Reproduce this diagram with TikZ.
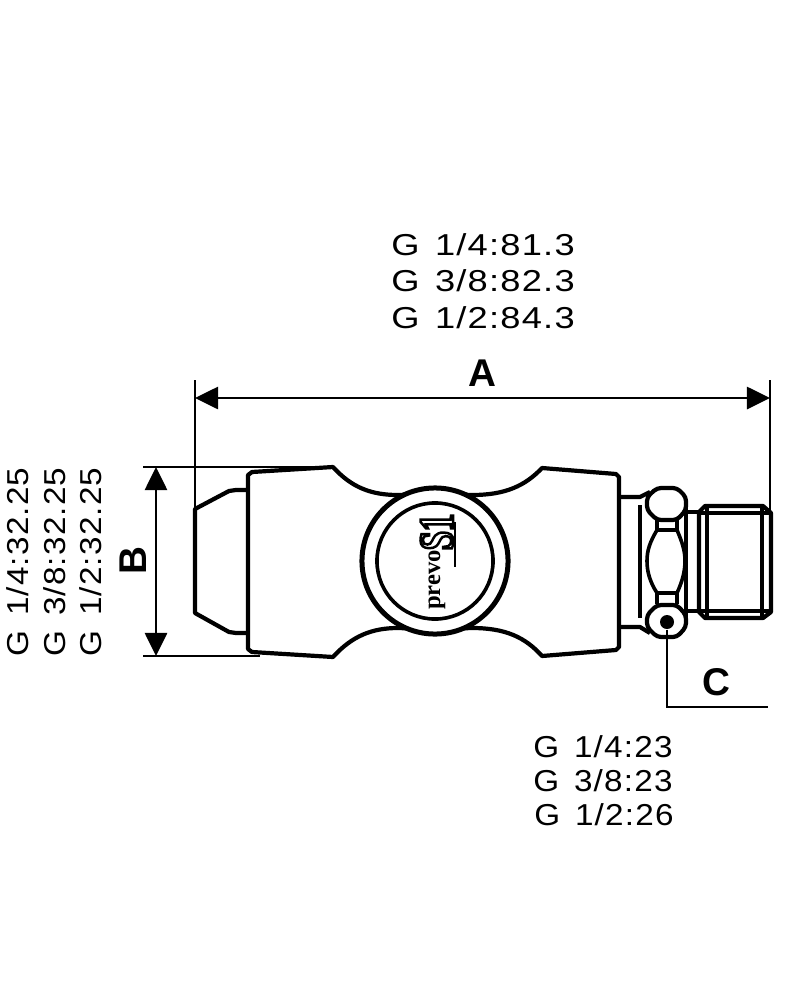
\documentclass[tikz,border=0pt]{standalone}
\usepackage{fontspec}
\usepackage{tikz}
\usetikzlibrary{arrows.meta}
\setmainfont{Liberation Sans}
\newfontfamily\dimfont[FakeStretch=1.1, LetterSpace=4]{Liberation Sans}
\newfontfamily\dimfontwide[FakeStretch=1.2, LetterSpace=4]{Liberation Sans}
\newfontfamily\logofont{Liberation Serif}
\newfontfamily\markfont[FakeStretch=0.7]{Liberation Serif}
\newcommand{\outlined}[1]{\special{pdf:code 1 Tr 0.7 w}#1\special{pdf:code 0 Tr}}
\newcommand{\gap}{\ \kern0.14em}
\tikzset{
    part/.style={draw=black, line width=0.042cm, line join=round, fill=white},
    thin part/.style={draw=black, line width=0.036cm, line join=round},
    nut part/.style={part, rounded corners=0.04cm},
    dimline/.style={draw=black, line width=0.027cm},
    dimarrow/.style={draw=black, line width=0.027cm, {Triangle[length=0.23cm,width=0.22cm]}-{Triangle[length=0.23cm,width=0.22cm]}},
    dimtext/.style={font=\dimfont\fontsize{8.6}{8.6}\selectfont, inner sep=0pt, align=center},
    dimtext wide/.style={font=\dimfontwide\fontsize{8.6}{8.6}\selectfont, inner sep=0pt, align=center},
    letter/.style={font=\bfseries\fontsize{11}{11}\selectfont, inner sep=0pt},
}
\begin{document}
\begin{tikzpicture}[x=0.01cm, y=-0.01cm]
    \useasboundingbox (0,0) rectangle (800,1000);
    % nose
    \draw[part] (250,490) -- (236,490) .. controls (233,490) and (232,490) .. (229,491) -- (195,509) -- (195,613) -- (229,632) .. controls (232,633) and (233,633) .. (236,633) -- (250,633);
    % body
    \draw[part] (252,472) -- (333,467) .. controls (352,488) and (372,495) .. (398,495)
        .. controls (425,494) and (445,494) .. (472,495)
        .. controls (505,495) and (525,486) .. (542,468)
        -- (616,474) -- (619,477) -- (619,647) -- (616,650) -- (542,656)
        .. controls (525,637) and (505,628) .. (472,628)
        .. controls (445,629) and (425,629) .. (398,628)
        .. controls (372,628) and (352,636) .. (333,657)
        -- (252,652) -- (248,649) -- (248,475) -- cycle;
    % button
    \node[shape=circle, draw=black, fill=white, line width=0.05cm, minimum size=1.46cm, inner sep=0pt] at (435,561) (ring) {};
    \node[shape=circle, draw=black, line width=0.036cm, minimum size=1.16cm, inner sep=0pt] at (435,561) (disc) {};
    \node[rotate=90, font=\logofont\bfseries\fontsize{7}{7}\selectfont, inner sep=0pt] at (437,580) (logoname) {prevo};
    \node[rotate=90, font=\markfont\bfseries\fontsize{14}{14}\selectfont, inner sep=0pt] at (437,532) (logomark) {\outlined{S1}};
    \draw[line width=0.02cm] (455,522) -- (455,567);
    % neck
    \draw[part] (619,497) -- (640,497) -- (650,492);
    \draw[part] (619,627) -- (640,627) -- (650,633);
    \draw[thin part] (640,505) -- (640,618);
    % nut
    \draw[part] (686,512) -- (699,512);
    \draw[part] (686,611) -- (699,611);
    \draw[part] (686,505) -- (686,618);
    \draw[thin part] (657,520) -- (657,530);
    \draw[thin part] (677,520) -- (677,530);
    \draw[thin part] (657,593) -- (657,604);
    \draw[thin part] (677,593) -- (677,604);
    \draw[thin part] (657,530) -- (677,530);
    \draw[thin part] (657,593) -- (677,593);
    \draw[thin part] (657,530) .. controls (650,542) and (647,550) .. (647,561) .. controls (647,572) and (650,582) .. (657,593);
    \draw[thin part] (677,530) .. controls (682,542) and (685,550) .. (685,561) .. controls (685,572) and (682,582) .. (677,593);
    \draw[nut part] (657,488) -- (677,488) -- (686,497) -- (686,510) -- (677,520) -- (657,520) -- (647,510) -- (647,497) -- cycle;
    \draw[nut part] (657,605) -- (677,605) -- (686,615) -- (686,627) -- (677,637) -- (657,637) -- (647,627) -- (647,615) -- cycle;
    \node[shape=circle, fill=black, minimum size=0.14cm, inner sep=0pt] at (667,622) (port) {};
    % thread
    \draw[part] (699,512) -- (705,506) -- (763,506) -- (771,513) -- (771,612) -- (763,618) -- (705,618) -- (699,612) -- cycle;
    \draw[thin part] (699,513) -- (771,513);
    \draw[thin part] (699,611) -- (771,611);
    \draw[thin part] (707,506) -- (707,618);
    \draw[thin part] (762,506) -- (762,618);
    % dimension A
    \coordinate (A1) at (195,380);
    \coordinate (A2) at (195,510);
    \coordinate (A3) at (770,380);
    \coordinate (A4) at (770,513);
    \coordinate (A5) at (195,398);
    \coordinate (A6) at (770,398);
    \draw[dimline] (A1) -- (A2);
    \draw[dimline] (A3) -- (A4);
    \draw[dimarrow] (A5) -- (A6);
    \node[letter] at (482,373) (labelA) {A};
    \node[dimtext wide] at (483,245) (sizeA1) {G\gap 1/4:81.3};
    \node[dimtext wide] at (483,281) (sizeA2) {G\gap 3/8:82.3};
    \node[dimtext wide] at (483,318) (sizeA3) {G\gap 1/2:84.3};
    % dimension B
    \coordinate (B1) at (143,467);
    \coordinate (B2) at (333,467);
    \coordinate (B3) at (143,656);
    \coordinate (B4) at (260,656);
    \coordinate (B5) at (156,467);
    \coordinate (B6) at (156,656);
    \draw[dimline] (B1) -- (B2);
    \draw[dimline] (B3) -- (B4);
    \draw[dimarrow] (B5) -- (B6);
    \node[letter, rotate=90] at (133,561) (labelB) {B};
    \node[dimtext, rotate=90] at (18,562) (sizeB1) {G\gap 1/4:32.25};
    \node[dimtext, rotate=90] at (55,562) (sizeB2) {G\gap 3/8:32.25};
    \node[dimtext, rotate=90] at (91,562) (sizeB3) {G\gap 1/2:32.25};
    % dimension C
    \coordinate (C1) at (667,707);
    \coordinate (C2) at (768,707);
    \draw[dimline] (port) -- (C1) -- (C2);
    \node[letter] at (716,682) (labelC) {C};
    \node[dimtext] at (603,747) (sizeC1) {G\gap 1/4:23};
    \node[dimtext] at (603,781) (sizeC2) {G\gap 3/8:23};
    \node[dimtext] at (604,815) (sizeC3) {G\gap 1/2:26};
\end{tikzpicture}
\end{document}
